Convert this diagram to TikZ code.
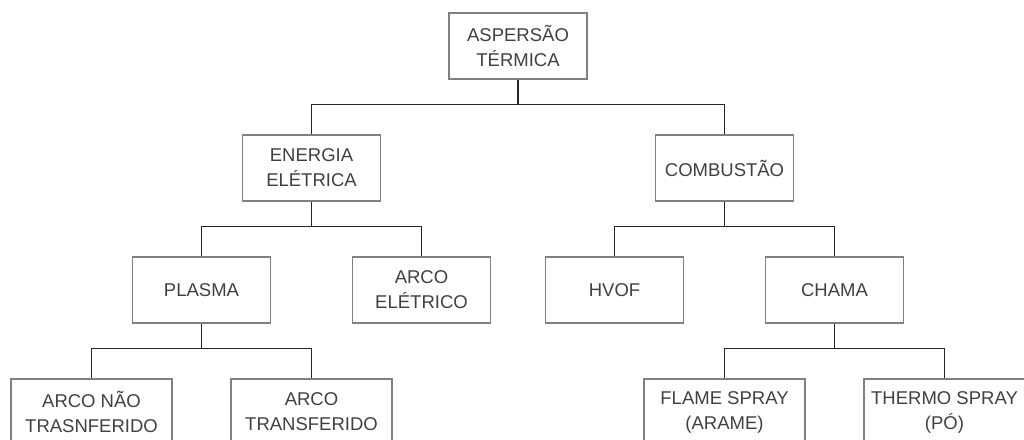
\documentclass[tikz,border=0pt]{standalone}
\usepackage{fontspec}
\setmainfont{Liberation Sans}
\tikzset{
	box/.style={draw=black!50, line width=1.6pt, text=black!75, align=center,
		font=\fontsize{18.5}{25}\selectfont, minimum width=138pt, minimum height=66pt, inner sep=0pt},
	wide box/.style={box, minimum width=161pt}
}
\begin{document}
\begin{tikzpicture}[
			x=1pt, y=1pt,
			level distance=122pt,
			level 1/.style={sibling distance=413pt},
			level 2/.style={sibling distance=220pt},
			level 3/.style={sibling distance=220pt},
			grow=down,
			edge from parent/.style={draw=black!85, line width=1.3pt},
			edge from parent path={(\tikzparentnode.south) -- ++(0,-25) -| (\tikzchildnode.north)}
			]
			\useasboundingbox (0,0) rectangle (1024,-439);
			\node[box] (aspersao) at (518,-46) {ASPERSÃO\\TÉRMICA}
			child {node[box] (energia) {ENERGIA\\ELÉTRICA}
				child {node[box] (plasma) {PLASMA}
					child {node[wide box] (naotransf) {ARCO NÃO\\TRASNFERIDO}}
					child {node[wide box] (transf) {ARCO\\TRANSFERIDO}}
				}
				child {node[box] (arco) {ARCO\\ELÉTRICO}}
			}
			child {node[box] (combustao) {COMBUSTÃO}
				child {node[box] (hvof) {HVOF}}
				child {node[box] (chama) {CHAMA}
					child {node[wide box] (flame) {FLAME SPRAY\\(ARAME)}}
					child {node[wide box] (thermo) {THERMO SPRAY\\(PÓ)}}
				}
			};
		\end{tikzpicture}
\end{document}
